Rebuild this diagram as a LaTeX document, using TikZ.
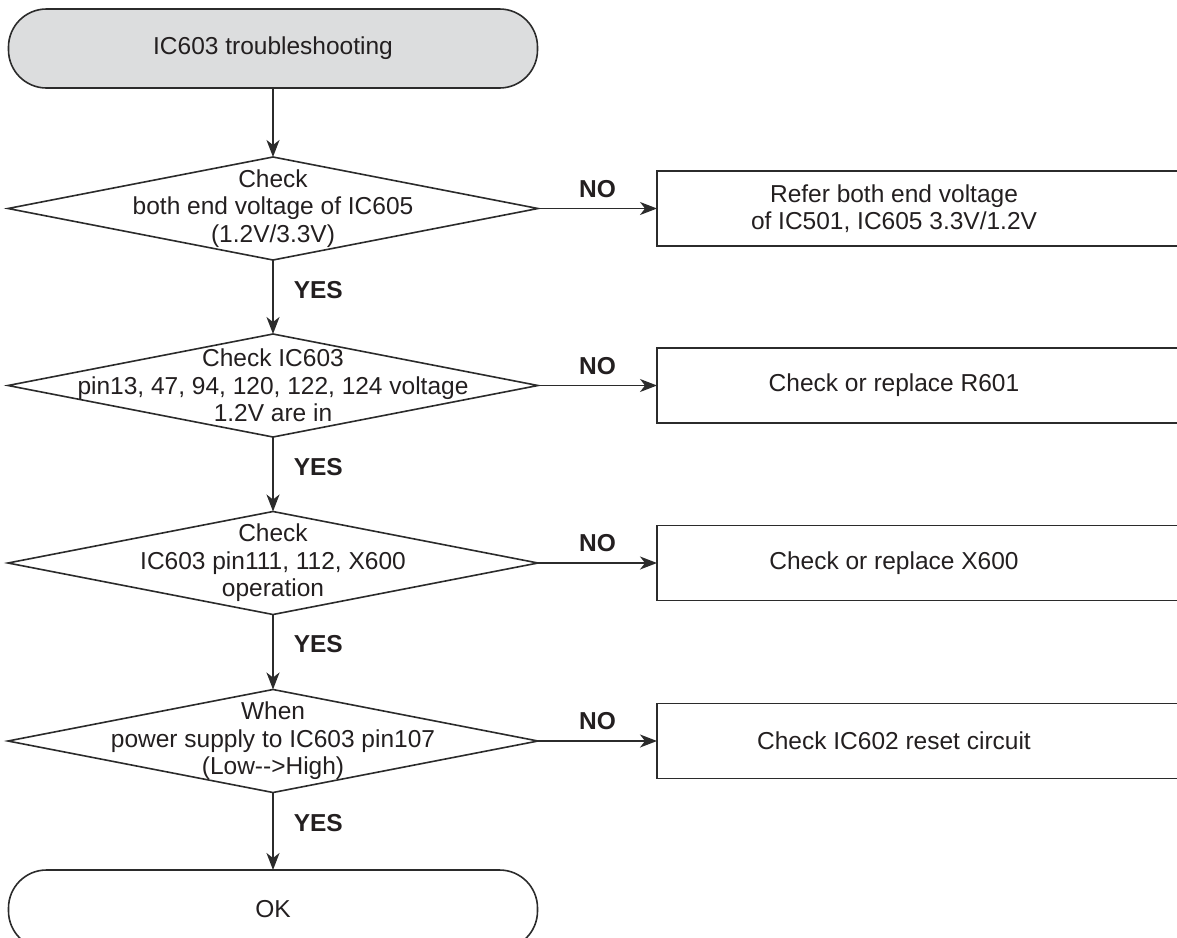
\documentclass[tikz,border=0pt]{standalone}
\usepackage{fontspec}
\setmainfont{Liberation Sans}
\usetikzlibrary{shapes.geometric,arrows.meta}
\definecolor{ink}{HTML}{231F20}
\definecolor{stroke}{HTML}{2B2B2B}
\definecolor{termfill}{HTML}{DCDDDE}
\begin{document}
\begin{tikzpicture}[x=1pt,y=-1pt,
  every node/.style={text=ink, font=\fontsize{24.5}{27.5}\selectfont},
  line/.style={draw=stroke, line width=1.6pt},
  term/.style={line, rectangle, rounded corners=38pt, minimum width=529pt,
    minimum height=79pt, inner sep=0pt, outer sep=0pt},
  decision/.style={line, diamond, minimum width=530pt, minimum height=103pt,
    inner sep=0pt, outer sep=0pt},
  outbox/.style={line, rectangle, minimum width=560pt, minimum height=75pt,
    inner sep=0pt, outer sep=0pt, anchor=west},
  txt/.style={align=center, inner sep=0pt},
  tag/.style={font=\fontsize{24.5}{27.5}\selectfont\bfseries, inner sep=0pt},
  flow/.style={line, -{Stealth[length=17pt,width=13pt,inset=5pt]}},
  yes/.style={tag, pos=0.4, anchor=west, xshift=20pt},
  no/.style={tag, midway, above=10pt}
]
\useasboundingbox (0,0) rectangle (1177,937);
\clip (0,0) rectangle (1177,937);

% terminals
\node[term, fill=termfill] (start) at (273,48.5) {IC603 troubleshooting};
\node[term] (ok) at (273,909.5) {OK};

% decisions
\node[decision] (d1) at (273,208.5) {};
\node[txt] (t1) at (d1.center) {Check\\both end voltage of IC605\\(1.2V/3.3V)};
\node[decision] (d2) at (273,385.5) {};
\node[txt] (t2) at (d2.center) {Check IC603\\pin13, 47, 94, 120, 122, 124 voltage\\1.2V are in};
\node[decision] (d3) at (273,563) {};
\node[txt] (t3) at (d3.center) {Check\\IC603 pin111, 112, X600\\operation};
\node[decision] (d4) at (273,741) {};
\node[txt] (t4) at (d4.center) {When\\power supply to IC603 pin107\\(Low-{}-{}>High)};

% actions
\node[outbox] (b1) at (657,208.5) {};
\node[txt] (a1) at (894,208.5) {Refer both end voltage\\of IC501, IC605 3.3V/1.2V};
\node[outbox] (b2) at (657,385.5) {};
\node[txt] (a2) at (894,385.5) {Check or replace R601};
\node[outbox] (b3) at (657,563) {};
\node[txt] (a3) at (894,563) {Check or replace X600};
\node[outbox] (b4) at (657,741) {};
\node[txt] (a4) at (894,741) {Check IC602 reset circuit};

% main flow
\draw[flow] (start.south) -- (d1.north);
\draw[flow] (d1.south) -- (d2.north) node[yes] {YES};
\draw[flow] (d2.south) -- (d3.north) node[yes] {YES};
\draw[flow] (d3.south) -- (d4.north) node[yes] {YES};
\draw[flow] (d4.south) -- (ok.north) node[yes] {YES};

% NO branches
\draw[flow] (d1.east) -- (b1.west) node[no] {NO};
\draw[flow] (d2.east) -- (b2.west) node[no] {NO};
\draw[flow] (d3.east) -- (b3.west) node[no] {NO};
\draw[flow] (d4.east) -- (b4.west) node[no] {NO};
\end{tikzpicture}
\end{document}
